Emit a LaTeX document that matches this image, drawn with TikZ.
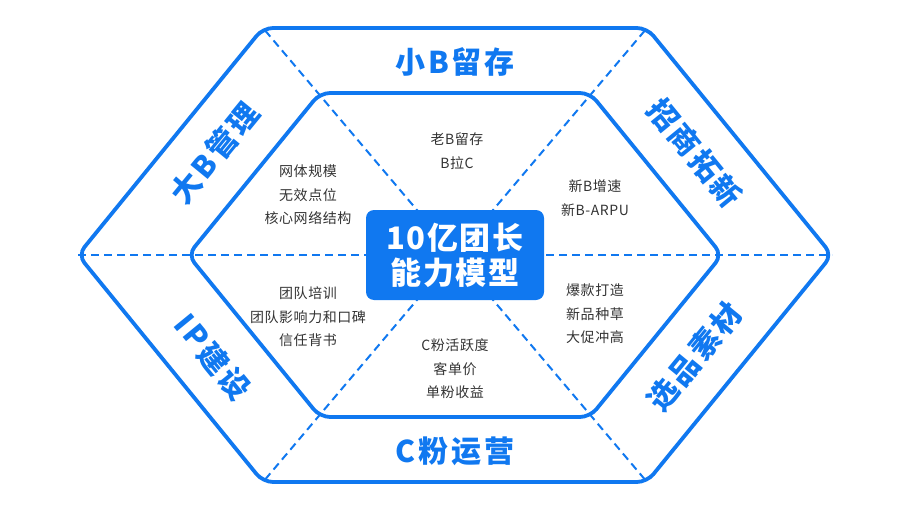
\documentclass[tikz,border=0pt]{standalone}
\usepackage{fontspec}
\setmainfont{Noto Sans CJK SC}
\definecolor{hexblue}{RGB}{16,120,240}
\definecolor{itemgray}{RGB}{51,51,51}
\tikzset{
  hexline/.style={draw=hexblue,line width=3.8pt,rounded corners=10pt},
  divider/.style={draw=hexblue,line width=2pt,dash pattern=on 8pt off 5pt},
  bandlabel/.style={text=hexblue,inner sep=0pt,
    font=\fontsize{30}{36}\selectfont\bfseries\addfontfeature{LetterSpace=10}},
  itemtext/.style={text=itemgray,align=center,inner sep=0pt,
    font=\fontsize{14}{23.5}\selectfont\addfontfeature{LetterSpace=4}},
}

\begin{document}
\begin{tikzpicture}[x=1pt,y=-1pt]
\useasboundingbox (0,0) rectangle (908,511);

% Corners of both hexagons
\coordinate (c) at (455,255);
\coordinate (o1) at (263,28);
\coordinate (o2) at (647,28);
\coordinate (o3) at (832,255);
\coordinate (o4) at (647,482);
\coordinate (o5) at (263,482);
\coordinate (o6) at (78,255);
\coordinate (i1) at (320,93);
\coordinate (i2) at (590,93);
\coordinate (i3) at (722,255);
\coordinate (i4) at (590,417);
\coordinate (i5) at (320,417);
\coordinate (i6) at (188,255);

% Dashed dividers
\draw[divider] (o6) -- (o3);
\foreach \k in {1,2,4,5}
  \draw[divider] (c) -- (o\k);

% Outer and inner hexagons
\draw[hexline] (o1) -- (o2) -- (o3) -- (o4) -- (o5) -- (o6) -- cycle;
\draw[hexline] (i1) -- (i2) -- (i3) -- (i4) -- (i5) -- (i6) -- cycle;

% Centre box
\node[fill=hexblue,rounded corners=8pt,minimum width=178pt,minimum height=90pt,
  text=white,align=center,
  font=\fontsize{31}{35}\selectfont\bfseries\addfontfeature{LetterSpace=5}] (core) at (c) {10亿团长\\能力模型};

% Outer band labels
\node[bandlabel] (top) at (455,62) {小B留存};
\node[bandlabel] (bottom) at (455,451) {C粉运营};
\node[bandlabel,rotate=50.7] (upleft) at (215,153) {大B管理};
\node[bandlabel,rotate=-50.7] (upright) at (695,153) {招商拓新};
\node[bandlabel,rotate=-50.7] (lowleft) at (213,357) {IP建设};
\node[bandlabel,rotate=50.7] (lowright) at (695,357) {选品素材};

% Inner items
\node[itemtext] (itemUL) at (308,195) {网体规模\\无效点位\\核心网络结构};
\node[itemtext] (itemT) at (457,151) {老B留存\\B拉C};
\node[itemtext] (itemUR) at (595,198) {新B增速\\新B-ARPU};
\node[itemtext] (itemLL) at (308,317) {团队培训\\团队影响力和口碑\\信任背书};
\node[itemtext] (itemB) at (455,369) {C粉活跃度\\客单价\\单粉收益};
\node[itemtext] (itemLR) at (595,314) {爆款打造\\新品种草\\大促冲高};

\end{tikzpicture}
\end{document}
